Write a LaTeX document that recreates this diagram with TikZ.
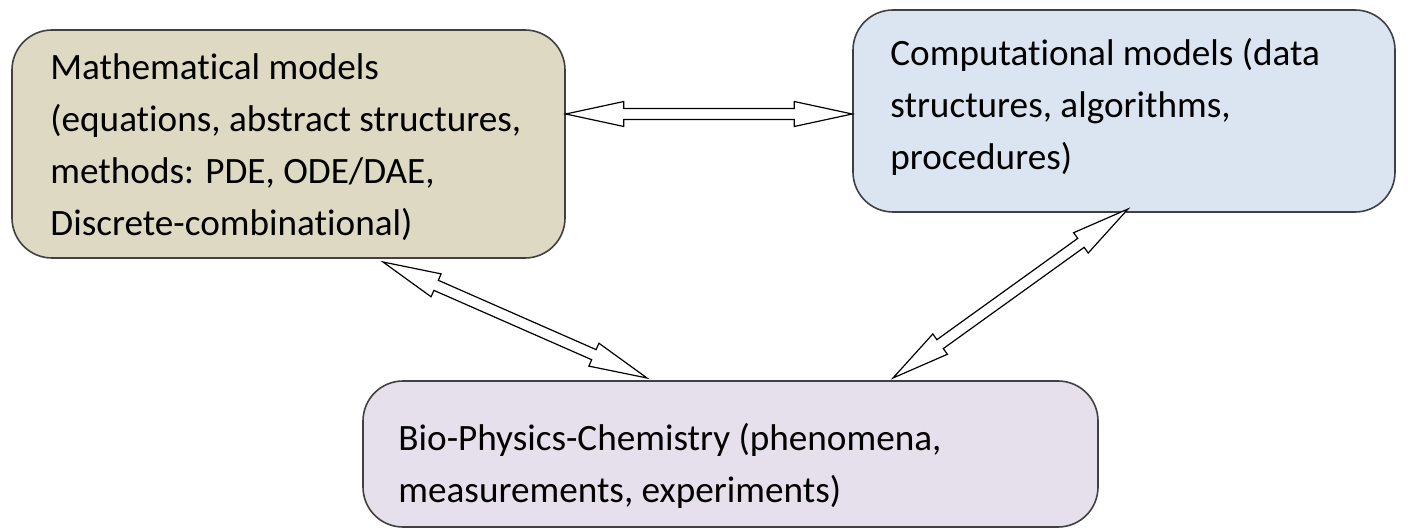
\documentclass[tikz,border=0pt]{standalone}
\usepackage{fontspec}
\setmainfont{Carlito}[Ligatures=NoCommon]
\usetikzlibrary{calc}
\definecolor{tanfill}{HTML}{DDD9C3}
\definecolor{bluefill}{HTML}{DBE5F1}
\definecolor{lilacfill}{HTML}{E5E0EC}
\definecolor{edge}{HTML}{404040}
\tikzset{
  box/.style={draw=edge, line width=0.8pt, rounded corners=20pt, inner sep=0pt},
  txt/.style={anchor=north west, align=left, inner sep=0pt, font=\fontsize{18.6}{26}\selectfont},
  blockarr/.style={draw=black, fill=white, line width=0.6pt, line join=miter}
}
\newcommand\dblarrow[2]{%
  \draw[blockarr] (#1)
    -- ($(#1)!29pt!(#2)!6.25pt!90:(#2)$)
    -- ($(#1)!29pt!(#2)!2.75pt!90:(#2)$)
    -- ($(#2)!29pt!(#1)!2.75pt!-90:(#1)$)
    -- ($(#2)!29pt!(#1)!6.25pt!-90:(#1)$)
    -- (#2)
    -- ($(#2)!29pt!(#1)!6.25pt!90:(#1)$)
    -- ($(#2)!29pt!(#1)!2.75pt!90:(#1)$)
    -- ($(#1)!29pt!(#2)!2.75pt!-90:(#2)$)
    -- ($(#1)!29pt!(#2)!6.25pt!-90:(#2)$)
    -- cycle;}
\begin{document}
\begin{tikzpicture}[x=0.5pt,y=-0.5pt]
\useasboundingbox (0,0) rectangle (1408,529);
% boxes
\node[box, fill=tanfill, minimum width=276.5pt, minimum height=114pt] (A) at (288.5,144) {};
\node[box, fill=bluefill, minimum width=271pt, minimum height=101pt] (B) at (1124,111) {};
\node[box, fill=lilacfill, minimum width=367.5pt, minimum height=73pt] (C) at (730.5,454) {};
% texts
\node[txt] (At) at (50,53) {Mathematical models\\(equations, abstract structures,\\methods: PDE, ODE/DAE,\\Discrete-combinational)};
\node[txt] (Bt) at (890,38) {Computational models (data\\structures, algorithms,\\procedures)};
\node[txt] (Ct) at (398,423) {Bio-Physics-Chemistry (phenomena,\\measurements, experiments)};
% arrow end points on the box borders
\coordinate (ab1) at (A.east |- 0,114);
\coordinate (ab2) at (B.west |- 0,114);
\coordinate (ac1) at (383,262);
\coordinate (ac2) at (647,378);
\coordinate (bc1) at (1128,209);
\coordinate (bc2) at (893,378);
\dblarrow{ab1}{ab2}
\dblarrow{ac1}{ac2}
\dblarrow{bc1}{bc2}
\end{tikzpicture}
\end{document}
